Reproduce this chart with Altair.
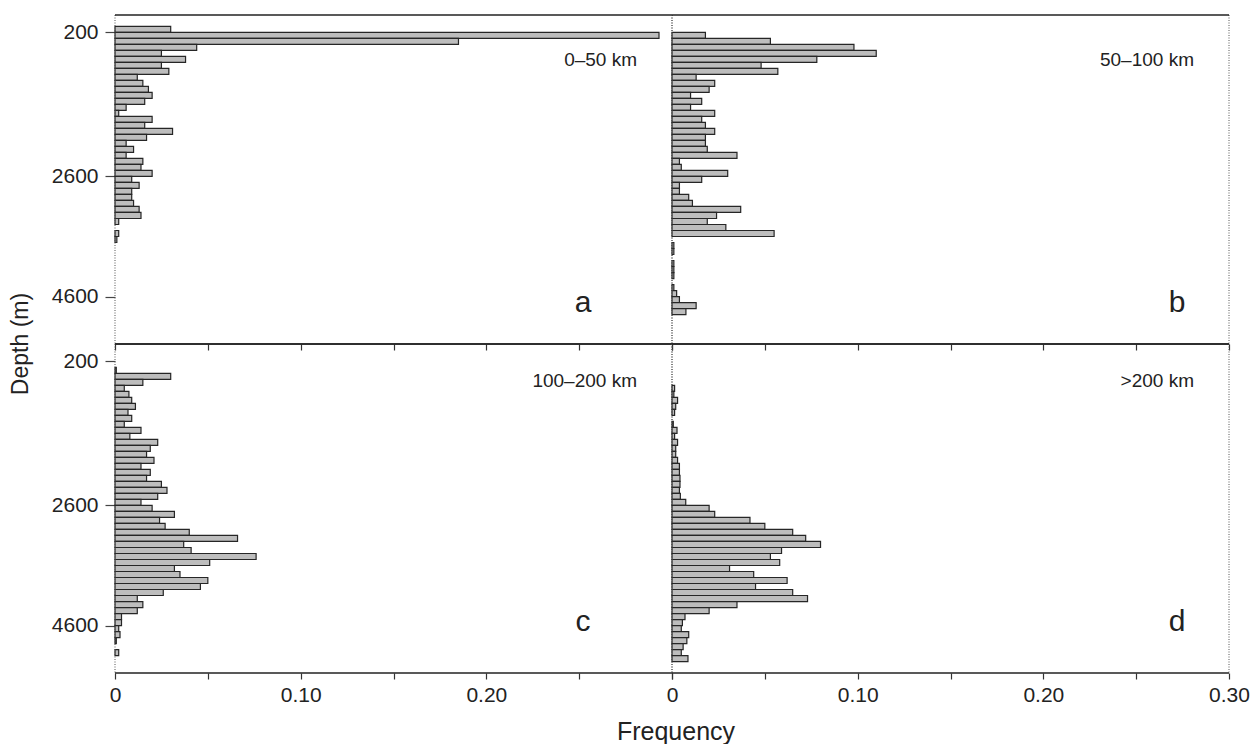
import altair as alt
import pandas as pd

# ---- data (frequency per 100 m depth bin, first bin starts at 100 m) ----
BIN_START = 100
BIN_SIZE = 100

freq_a = [0.030, 0.293, 0.185, 0.044, 0.025, 0.038, 0.025, 0.029, 0.012, 0.015,
          0.018, 0.020, 0.016, 0.006, 0.002, 0.020, 0.016, 0.031, 0.017, 0.006,
          0.010, 0.006, 0.015, 0.014, 0.020, 0.009, 0.013, 0.009, 0.009, 0.010,
          0.013, 0.014, 0.002, 0.0, 0.002, 0.001]

freq_b = [0.0, 0.018, 0.053, 0.098, 0.110, 0.078, 0.048, 0.057, 0.013, 0.023,
          0.020, 0.010, 0.016, 0.010, 0.023, 0.016, 0.018, 0.023, 0.018, 0.018,
          0.019, 0.035, 0.004, 0.005, 0.030, 0.016, 0.004, 0.004, 0.009, 0.011,
          0.037, 0.024, 0.019, 0.029, 0.055, 0.0, 0.001, 0.001, 0.0, 0.001,
          0.001, 0.001, 0.0, 0.001, 0.0025, 0.004, 0.013, 0.0075]

freq_c = [0.0, 0.0, 0.0007, 0.030, 0.015, 0.005, 0.0075, 0.009, 0.011, 0.007,
          0.009, 0.005, 0.014, 0.008, 0.023, 0.019, 0.017, 0.021, 0.014, 0.019,
          0.017, 0.025, 0.028, 0.023, 0.014, 0.020, 0.032, 0.024, 0.027, 0.040,
          0.066, 0.037, 0.041, 0.076, 0.051, 0.032, 0.035, 0.050, 0.046, 0.026,
          0.012, 0.015, 0.012, 0.0035, 0.0035, 0.002, 0.0027, 0.0007, 0.0, 0.002]

freq_d = [0.0, 0.0, 0.0, 0.0, 0.0, 0.0014, 0.001, 0.003, 0.002, 0.0014,
          0.0, 0.0007, 0.0027, 0.0014, 0.003, 0.002, 0.002, 0.003, 0.004, 0.004,
          0.0043, 0.0043, 0.004, 0.0045, 0.0074, 0.020, 0.023, 0.042, 0.050, 0.065,
          0.072, 0.080, 0.059, 0.053, 0.058, 0.031, 0.044, 0.062, 0.045, 0.065,
          0.073, 0.035, 0.020, 0.007, 0.0056, 0.005, 0.009, 0.008, 0.006, 0.005,
          0.0086]

range_labels = ["0\u201350 km", "50\u2013100 km", "100\u2013200 km", ">200 km"]
panel_letters = ["a", "b", "c", "d"]
y_ticks = [200, 2600, 4600]
x_ticks = [0, 0.05, 0.1, 0.15, 0.2, 0.25, 0.3]

W, H = 557, 329
Y_DOMAIN = [-88, 5390]
X_DOMAIN = [0, 0.30]
FONT = "Liberation Sans"
TXT = "#222222"


def make_panel(freqs, label, letter, left, bottom, right_col):
    tops = [BIN_START + i * BIN_SIZE for i in range(len(freqs))]
    df = pd.DataFrame({"top": tops, "freq": freqs})
    df = df[df["freq"] > 0].copy()
    df["bottom"] = df["top"] + BIN_SIZE
    df["zero"] = 0.0

    xscale = alt.Scale(domain=X_DOMAIN, nice=False, zero=False)
    yscale = alt.Scale(domain=Y_DOMAIN, reverse=True, nice=False, zero=False)

    if left:
        yaxis = alt.Axis(values=y_ticks, format="d", tickSize=10, domain=False, title=None,
                         labelFontSize=21, labelPadding=7, labelColor=TXT,
                         tickColor="#444", tickWidth=1.2, grid=False, labelFont=FONT)
    else:
        yaxis = None

    if bottom:
        if right_col:
            lab = "datum.value == 0 ? '0' : datum.value == 0.1 ? '0.10' : datum.value == 0.2 ? '0.20' : datum.value == 0.3 ? '0.30' : ''"
        else:
            lab = "datum.value == 0 ? '0' : datum.value == 0.1 ? '0.10' : datum.value == 0.2 ? '0.20' : ''"
        xaxis = alt.Axis(values=x_ticks, tickSize=6, domain=False, title=None,
                         labelExpr=lab, labelFontSize=21, labelPadding=5,
                         labelColor=TXT, tickColor="#333", tickWidth=1.2,
                         labelFlush=False, labelOverlap=False, grid=False, labelFont=FONT)
    else:
        xaxis = alt.Axis(values=x_ticks, tickSize=6, domain=False, title=None,
                         labels=False, tickColor="#333", tickWidth=1.2, grid=False)

    bars = alt.Chart(df).mark_rect(fill="#bdbdbd", stroke="#262626", strokeWidth=1.2).encode(
        x=alt.X("zero:Q", scale=xscale, axis=xaxis),
        x2="freq:Q",
        y=alt.Y("top:Q", scale=yscale, axis=yaxis),
        y2="bottom:Q",
    )

    vdot_l = alt.Chart().mark_rule(color="#555", strokeDash=[1, 1.5], strokeWidth=1).encode(
        x=alt.value(0))
    vdot_r = alt.Chart().mark_rule(color="#555", strokeDash=[1, 1.5], strokeWidth=1).encode(
        x=alt.value(W))
    htop = alt.Chart().mark_rule(color="#222", strokeWidth=1.5).encode(y=alt.value(0))
    hbot = alt.Chart().mark_rule(color="#222", strokeWidth=1.5).encode(y=alt.value(H))

    label_y = 45 if not bottom else 37
    letter_y = 288 if not bottom else 278
    letter_x = W - 52 if right_col else W - 89
    lbl = alt.Chart().mark_text(text=label, align="right", baseline="middle",
                                fontSize=19, font=FONT, color=TXT).encode(
        x=alt.value(W - 35), y=alt.value(label_y))
    let = alt.Chart().mark_text(text=letter, align="center", baseline="middle",
                                fontSize=30, font=FONT, color=TXT).encode(
        x=alt.value(letter_x), y=alt.value(letter_y))

    layers = [bars, vdot_l, vdot_r, htop, hbot, lbl, let]

    if left and not bottom:
        ytitle = alt.Chart().mark_text(text="Depth (m)", angle=270, align="center",
                                       baseline="middle", fontSize=23, font=FONT,
                                       color=TXT).encode(
            x=alt.value(-94), y=alt.value(H))
        layers.append(ytitle)
    if left and bottom:
        xtitle = alt.Chart().mark_text(text="Frequency", align="center",
                                       baseline="middle", fontSize=25, font=FONT,
                                       color=TXT).encode(
            x=alt.value(W + 4), y=alt.value(388))
        layers.append(xtitle)

    return alt.layer(*layers).properties(width=W, height=H)


pa = make_panel(freq_a, range_labels[0], panel_letters[0], True, False, False)
pb = make_panel(freq_b, range_labels[1], panel_letters[1], False, False, True)
pc = make_panel(freq_c, range_labels[2], panel_letters[2], True, True, False)
pd_ = make_panel(freq_d, range_labels[3], panel_letters[3], False, True, True)

chart = alt.concat(pa, pb, pc, pd_, columns=2, spacing=0, bounds="flush").properties(
    padding={"left": 2, "top": 6, "right": 0, "bottom": 0},
    background="white",
).configure_view(stroke=None).configure_axis(labelFont=FONT)

chart.save("out.html", embed_options={"renderer": "svg", "actions": False})
